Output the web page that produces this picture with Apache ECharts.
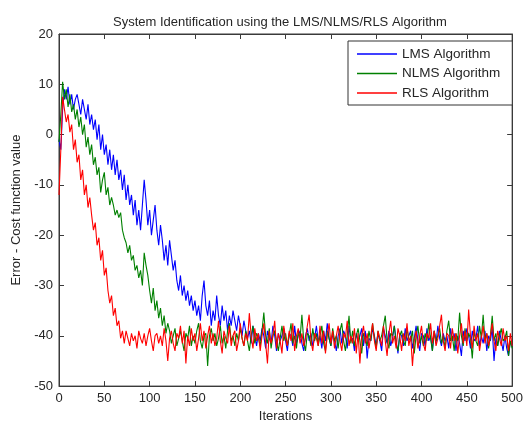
<!DOCTYPE html>
<html>
<head>
<meta charset="utf-8">
<script src="https://cdn.jsdelivr.net/npm/echarts@6/dist/echarts.min.js"></script>
<style>
html,body{margin:0;padding:0;background:#fff;}
#chart{width:526px;height:428px;}
</style>
</head>
<body>
<div id="chart"></div>
<script>
// iteration step between stored samples
var STEP = 2;
var xTicks = [0,50,100,150,200,250,300,350,400,450,500];
var yTicks = [-50,-40,-30,-20,-10,0,10,20];
var seriesNames = ['LMS Algorithm','NLMS Algorithm','RLS Algorithm'];

var lmsValues = [
 -1,-3,5,9,7,9.5,6,8,5,7,
 8,6,4,7,5,3,6,2,4,1,
 3,-1,2,-3,0,-4,-2,-6,-3,-7,
 -4,-8,-5,-9,-7,-11,-8,-13,-10,-14,
 -12,-16,-13,-18,-15,-19,-14,-9,-13,-18,
 -15,-20,-17,-14,-19,-22,-18,-21,-25,-22,
 -26,-21,-24,-27,-25,-29,-31,-28,-32,-30,
 -33,-31,-34,-32,-35,-33,-36,-34,-37,-32,
 -29,-34,-36,-33,-38,-35,-37,-32,-36,-38,
 -34,-37,-35,-39,-36,-38,-35,-37,-39,-36,
 -38,-40,-37,-39,
 -40.5,-39,-41.5,-38,-40,-42,-39.5,-41,-38.5,-40,
 -42.5,-39,-40.5,-41.5,-38,-40,-43,-39.5,-41,-40,
 -38.5,-41,-43,-39.5,-40,-42,-38,-41.5,-40,-39,
 -41.5,-43,-40,-38.5,-41,-39.5,-42,-40.5,-38,-41,
 -40,-42.5,-39,-41,-37.5,-40.5,-42,-39.5,-41,-43,
 -40,-38.5,-41.5,-39,-40,-42.5,-38,-41,-40.5,-43,
 -39.5,-41,-40,-38.5,-42,-39,-44.5,-40.5,-41,-38.5,
 -40,-42,-39.5,-41,-43,-38.5,-40,-41.5,-39,-42,
 -40.5,-38,-41,-43.5,-39.5,-40,-42,-38.5,-41,-40,
 -39,-42.5,-40.5,-38,-41,-43,-39.5,-40,-42,-38.5,
 -41,-40,-43,-39,-41.5,-38,-40.5,-42,-39.5,-41,
 -40,-42.5,-38.5,-41,-39.5,-43,-40,-41.5,-44,-39,
 -41,-38.5,-40,-42.5,-39,-41,-40.5,-38,-42,-40,
 -41.5,-39,-43,-40,-41,-38.5,-45,-40.5,-42,-39,
 -41,-43,-40,-42.5,-44,-41,-42
];

var nlmsValues = [
 -1.5,4,10.5,7,9,5.5,8,4.5,6,3,
 5,1.5,3.5,0,2,-2.5,-0.5,-4,-2,-6,
 -4.5,-8,-6.5,-11.5,-9,-7.5,-12,-10.5,-14,-12.5,
 -14,-16,-15,-16.5,-15.5,-19,-20.5,-21.5,-23.5,-22,
 -25,-24,-27,-26,-28.5,-27,-30,-23.5,-26,-28,
 -31,-33.5,-30.5,-35,-33,-36.5,-34.5,-38,-36,-39.5,-37.5,
 -39,-41.5,-40,-38.5,-42,-40.5,-39,-41,-43,-39.5,
 -40.5,-38,-42,-40,-41.5,-39,-37.5,-41,-42.5,-40,
 -39.5,-46,-40,-38.5,-41,-39.5,-42,-40.5,-38,-41.5,
 -40,-42.5,-39,-37.5,-41,-40,-42,-39.5,-41,-38.5,
 -40.5,-42,-39,-41,-43,-40,-38,-41.5,-39.5,-40.5,
 -42,-39,-35.4,-40,-41.5,-38.5,-42.5,-40,-39,-41,
 -43,-40.5,-38,-41,-39.5,-42,-40,-37.5,-41.5,-40,
 -42.5,-39,-40.5,-35.8,-41,-43,-39.5,-40,-42,-38.5,
 -41,-39.5,-42,-40,-38,-41.5,-43,-39,-40.5,-42,
 -38.5,-41,-40,-42.5,-39,-37.5,-41,-43,-40,-36,
 -41.5,-39,-42,-40,-38.5,-41,-43.5,-39.5,-40.5,-42,
 -39,-41,-37.5,-40.5,-42.5,-39,-41,-40,-38,-36,
 -41,-42.5,-39.5,-40,-38,-41.5,-43,-40,-39,-41,
 -42,-38.5,-40.5,-41,-39,-43.5,-40,-38,-41.5,-40,
 -42,-39.5,-41,-37.5,-40.5,-43,-39,-41,-40,-38.5,
 -41.5,-40,-42.5,-39,-37,-41,-40,-43,-39.5,-41,
 -35.4,-40,-42,-38.5,-41,-39.5,-40.5,-44.5,-39,-41,
 -42,-38,-40.5,-35.8,-41,-39.5,-42.5,-40,-36,-41,
 -39.5,-42,-40,-38.5,-41,-40.5,-39,-44,-41,-42.5
];

var rlsValues = [
 -12,-3,7.5,5,2.5,4,0.5,2,-3,-1,
 -5.5,-4,-9,-7,-12,-10,-14.5,-12.5,-16,-19,
 -17.5,-22,-20.5,-25,-23,-28,-26.5,-31,-33.5,-32,
 -36,-34.5,-38,-37,-40.5,-39,
 -41.5,-39,-40.5,-42,-39.5,-41,-40,-42.5,-39,-40.5,
 -41.5,-39.5,-42,-40,-38.5,-41,-43,-40,-39.5,-41.5,
 -40,-42,-38.5,-41,-45,-40.5,-39,-41.5,-43,-39.5,
 -40.5,-38,-41.5,-39,-45.5,-40,-42,-38.5,-41,-39.5,
 -43,-40.5,-37.5,-41,-39,-42.5,-40,-38,-41.5,-39.5,
 -42,-40.5,-37,-41,-43.5,-39,-40.5,-41.5,-38,-42,
 -40,-39,-43,-41,-37.5,-40.5,-42,-39.5,-41,-35.5,
 -40,-42.5,-38.5,-41,-39.5,-43,-40,-37.5,-41.5,-45.5,
 -39,-41.5,-40,-37,-42.5,-39.5,-41,-43.5,-38,-40.5,
 -42,-39,-41,-37.5,-43,-40,-38.5,-41.5,-39.5,-42,
 -40.5,-38,-35.8,-41,-43,-39.5,-40.5,-42,-38,-41.5,
 -39,-43.5,-40,-37.5,-41.5,-39,-42.5,-40,-38,-41,
 -43,-39.5,-40.5,-37,-42,-40,-41.5,-38.5,-43.5,-39.5,
 -45.5,-40,-38,-41.5,-39.5,-42.5,-40,-37.5,-41,-43,
 -39,-40.5,-42,-38,-41,-44,-39.5,-37,-41.5,-40,
 -42.5,-38.5,-40,-43,-39.5,-41,-37.5,-42,-40,-46,
 -41,-39,-42.5,-40,-38,-41.5,-43,-39.5,-40.5,-37.5,
 -41.5,-39,-42,-40.5,-38,-35.8,-41,-43,-39.5,-40,
 -42.5,-38.5,-41,-39.5,-43.5,-40,-37.5,-41.5,-39,-42,
 -34.8,-40,-42.5,-38,-41,-39.5,-43,-40.5,-38,-41.5,
 -39.5,-42,-40,-37.5,-41,-43,-39,-40.5,-42,-38.5,
 -41,-40,-43,-39.5,-42
];

function toPairs(vals){
  var out = [];
  for (var i = 0; i < vals.length; i++) out.push([i*STEP, vals[i]]);
  return out;
}

var FONT = 'Liberation Sans, Arial, sans-serif';
var AXC = '#3a3a3a';
var chart = echarts.init(document.getElementById('chart'), null, {renderer:'canvas'});

function xAxisDef(pos, showLabel, name){
  return {
    type:'value', position:pos, min:xTicks[0], max:xTicks[xTicks.length-1], interval:50,
    name: name || '', nameLocation:'middle', nameGap:22,
    nameTextStyle:{fontFamily:FONT, fontSize:13, color:'#262626'},
    axisLine:{show:true, onZero:false, lineStyle:{color:AXC, width:1}},
    axisTick:{show:true, inside:true, length:5, lineStyle:{color:AXC}},
    axisLabel:{show:showLabel, fontFamily:FONT, fontSize:13, color:'#262626', margin:6},
    splitLine:{show:false}
  };
}
function yAxisDef(pos, showLabel, name){
  return {
    type:'value', position:pos, min:yTicks[0], max:yTicks[yTicks.length-1], interval:10,
    name: name || '', nameLocation:'middle', nameGap:36, nameRotate:90,
    nameTextStyle:{fontFamily:FONT, fontSize:13, color:'#262626'},
    axisLine:{show:true, onZero:false, lineStyle:{color:AXC, width:1}},
    axisTick:{show:true, inside:true, length:5, lineStyle:{color:AXC}},
    axisLabel:{show:showLabel, fontFamily:FONT, fontSize:13, color:'#262626', margin:6},
    splitLine:{show:false}
  };
}

var colors = ['#0000ff','#008000','#ff0000'];
var allVals = [lmsValues, nlmsValues, rlsValues];

chart.setOption({
  animation:false,
  backgroundColor:'#ffffff',
  title:{
    text:'System Identification using the LMS/NLMS/RLS Algorithm',
    left:108, top:11,
    textStyle:{fontFamily:FONT, fontSize:13, fontWeight:'normal', color:'#262626'}
  },
  grid:{left:59, right:10, top:34, bottom:35, containLabel:false, show:true, borderColor:AXC, borderWidth:1, backgroundColor:'transparent'},
  legend:{
    orient:'vertical', left:348, top:41,
    data:seriesNames,
    icon:'rect', itemWidth:40, itemHeight:1.5, itemGap:5.5,
    padding:[6,12,5,9],
    borderColor:'#333', borderWidth:1, backgroundColor:'#fff',
    textStyle:{fontFamily:FONT, fontSize:13.5, color:'#262626', lineHeight:14}
  },
  xAxis:[xAxisDef('bottom', true, 'Iterations'), xAxisDef('top', false)],
  yAxis:[yAxisDef('left', true, 'Error - Cost function value'), yAxisDef('right', false)],
  series: seriesNames.map(function(n, k){
    return {
      name:n, type:'line', xAxisIndex:0, yAxisIndex:0,
      data: toPairs(allVals[k]),
      showSymbol:false, symbol:'none',
      lineStyle:{color:colors[k], width:1.1},
      itemStyle:{color:colors[k]},
      clip:true
    };
  })
});
</script>
</body>
</html>
